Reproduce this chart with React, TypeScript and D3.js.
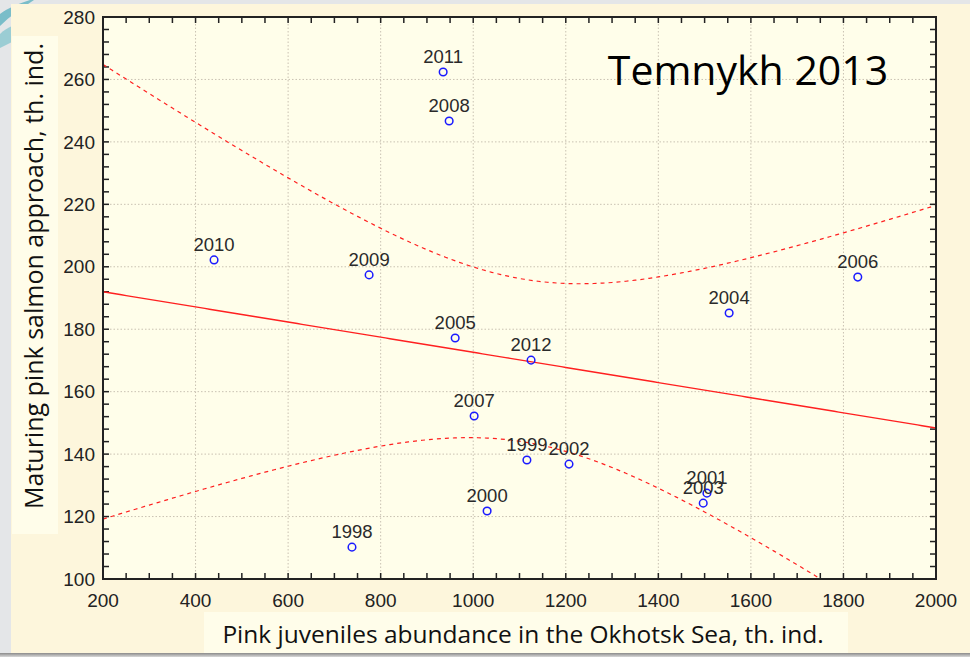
import * as d3 from "d3";

const WIDTH = 970;
const HEIGHT = 657;
const MARGIN = { top: 17, right: 34, bottom: 78, left: 103 };

// data
const years = ["1998", "1999", "2000", "2001", "2002", "2003", "2004", "2005", "2006", "2007", "2008", "2009", "2010", "2011", "2012"];
const juveniles = [738, 1116, 1030, 1505, 1207, 1497, 1553, 961, 1831, 1002, 948, 775, 440, 935, 1125];
const approach = [110.2, 138.1, 121.8, 127.5, 136.8, 124.3, 185.2, 177.2, 196.7, 152.2, 246.7, 197.4, 202.2, 262.4, 170.1];

const xTicks = [200, 400, 600, 800, 1000, 1200, 1400, 1600, 1800, 2000];
const yTicks = [100, 120, 140, 160, 180, 200, 220, 240, 260, 280];

const T_95 = 2.1604; // t(13), two-sided 95%

export default function App() {
  const boundsWidth = WIDTH - MARGIN.left - MARGIN.right;
  const boundsHeight = HEIGHT - MARGIN.top - MARGIN.bottom;

  const xScale = d3.scaleLinear().domain([200, 2000]).range([0, boundsWidth]);
  const yScale = d3.scaleLinear().domain([100, 280]).range([boundsHeight, 0]);

  // least squares fit + 95% confidence band of the mean
  const n = juveniles.length;
  const mx = d3.mean(juveniles)!;
  const my = d3.mean(approach)!;
  const sxx = d3.sum(juveniles, (x) => (x - mx) ** 2);
  const sxy = d3.sum(juveniles, (x, i) => (x - mx) * (approach[i] - my));
  const slope = sxy / sxx;
  const icpt = my - slope * mx;
  const sse = d3.sum(juveniles, (x, i) => (approach[i] - (icpt + slope * x)) ** 2);
  const s = Math.sqrt(sse / (n - 2));
  const fit = (x: number) => icpt + slope * x;
  const half = (x: number) => T_95 * s * Math.sqrt(1 / n + (x - mx) ** 2 / sxx);

  const xs = d3.range(200, 2001, 10);
  const pathOf = (f: (x: number) => number) =>
    d3
      .line<number>()
      .x((x) => xScale(x))
      .y((x) => yScale(f(x)))(xs) ?? "";

  const xMinor = d3.range(200, 2001, 50);
  const yMinor = d3.range(100, 281, 4);

  return (
    <svg width={WIDTH} height={HEIGHT} style={{ position: "absolute", left: 0, top: 0 }}>
      <defs>
        <linearGradient id="shadow" x1="0" y1="0" x2="0" y2="1">
          <stop offset="0" stopColor="#8a8a8a" />
          <stop offset="1" stopColor="#d8d8d8" />
        </linearGradient>
        <clipPath id="plot-clip">
          <rect x={0} y={0} width={boundsWidth} height={boundsHeight} />
        </clipPath>
      </defs>

      {/* slide background */}
      <rect x={0} y={0} width={WIDTH} height={HEIGHT} fill="#e4e6e8" />
      <path d="M0,14 C8,8 18,4 30,0 L34,0 C22,8 10,16 0,26 Z" fill="#5fb3c0" opacity={0.8} />
      <path d="M0,34 C4,30 8,28 12,26 L12,42 C8,44 4,46 0,48 Z" fill="#7cc2cc" opacity={0.7} />
      <rect x={0} y={653} width={WIDTH} height={4} fill="url(#shadow)" />

      {/* chart panel */}
      <rect x={11} y={4} width={WIDTH - 11} height={649} fill="#fdf6dc" />
      <rect x={12} y={36} width={46} height={498} fill="#fffdea" />
      <rect x={204} y={612} width={644} height={41} fill="#fffdea" />

      <g transform={`translate(${MARGIN.left},${MARGIN.top})`}>
        <rect x={0} y={0} width={boundsWidth} height={boundsHeight} fill="#fffeea" />

        {/* grid */}
        {xTicks.map((t) => (
          <line key={`gx${t}`} x1={xScale(t)} x2={xScale(t)} y1={0} y2={boundsHeight} stroke="#c9c2b2" strokeDasharray="1.5,2" strokeWidth={1} />
        ))}
        {yTicks.map((t) => (
          <line key={`gy${t}`} x1={0} x2={boundsWidth} y1={yScale(t)} y2={yScale(t)} stroke="#c9c2b2" strokeDasharray="1.5,2" strokeWidth={1} />
        ))}

        {/* minor ticks on all four sides */}
        {xMinor.map((t) => (
          <g key={`tx${t}`}>
            <line x1={xScale(t)} x2={xScale(t)} y1={boundsHeight} y2={boundsHeight - 6} stroke="#222" strokeWidth={1.5} />
            <line x1={xScale(t)} x2={xScale(t)} y1={0} y2={6} stroke="#222" strokeWidth={1.5} />
          </g>
        ))}
        {yMinor.map((t) => (
          <g key={`ty${t}`}>
            <line x1={0} x2={6} y1={yScale(t)} y2={yScale(t)} stroke="#222" strokeWidth={1.5} />
            <line x1={boundsWidth} x2={boundsWidth - 6} y1={yScale(t)} y2={yScale(t)} stroke="#222" strokeWidth={1.5} />
          </g>
        ))}

        {/* fit and confidence band */}
        <g clipPath="url(#plot-clip)" fill="none" stroke="#ff2020">
          <path d={pathOf(fit)} strokeWidth={1.4} />
          <path d={pathOf((x) => fit(x) + half(x))} strokeWidth={1.2} strokeDasharray="4,4" />
          <path d={pathOf((x) => fit(x) - half(x))} strokeWidth={1.2} strokeDasharray="4,4" />
        </g>

        <rect x={0} y={0} width={boundsWidth} height={boundsHeight} fill="none" stroke="#222" strokeWidth={2} />

        {/* points */}
        {juveniles.map((x, i) => (
          <g key={years[i]}>
            <circle cx={xScale(x)} cy={yScale(approach[i])} r={3.8} fill="none" stroke="#1a1aff" strokeWidth={1.5} />
            <text
              x={xScale(x)}
              y={yScale(approach[i]) - 9}
              textAnchor="middle"
              fontFamily="Liberation Sans, Arial, sans-serif"
              fontSize={18.5}
              fill="#2a2a2a"
            >
              {years[i]}
            </text>
          </g>
        ))}

        {/* tick labels */}
        {xTicks.map((t) => (
          <text key={`lx${t}`} x={xScale(t)} y={boundsHeight + 28} textAnchor="middle" fontFamily="Liberation Sans, Arial, sans-serif" fontSize={19} fill="#222">
            {t}
          </text>
        ))}
        {yTicks.map((t) => (
          <text key={`ly${t}`} x={-8} y={yScale(t)} dy="0.35em" textAnchor="end" fontFamily="Liberation Sans, Arial, sans-serif" fontSize={19} fill="#222">
            {t}
          </text>
        ))}

        <text x={645} y={68} textAnchor="middle" fontFamily="Open Sans, sans-serif" fontSize={41} fill="#000">
          Temnykh 2013
        </text>
      </g>

      {/* axis titles */}
      <text x={523} y={643} textAnchor="middle" fontFamily="Open Sans, sans-serif" fontSize={24.5} fill="#111">
        Pink juveniles abundance in the Okhotsk Sea, th. ind.
      </text>
      <text
        transform="translate(43,276) rotate(-90)"
        textAnchor="middle"
        fontFamily="Open Sans, sans-serif"
        fontSize={25}
        fill="#111"
      >
        Maturing pink salmon approach, th. ind.
      </text>
    </svg>
  );
}
